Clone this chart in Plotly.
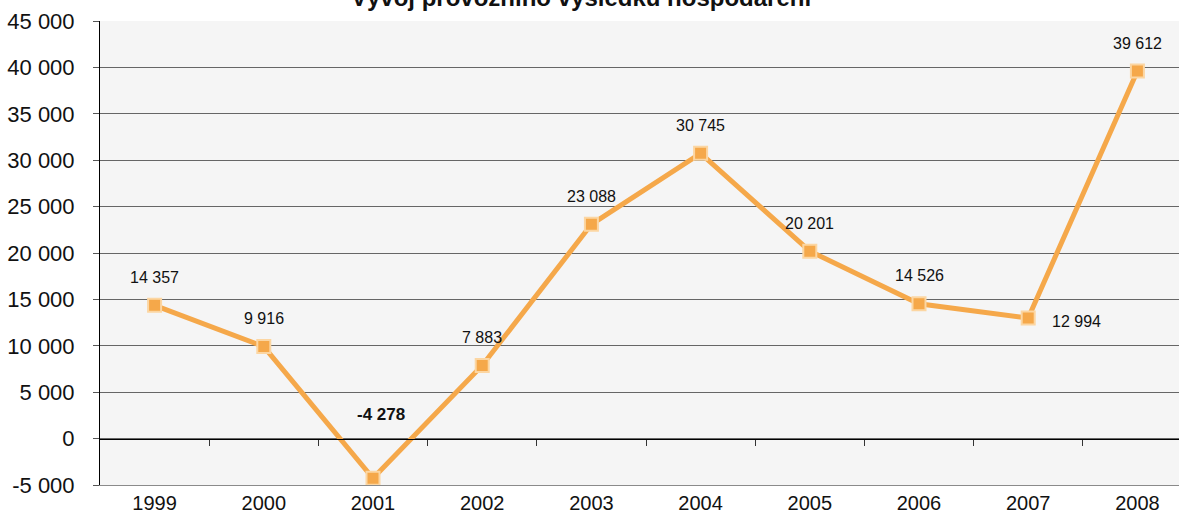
import plotly.graph_objects as go

# ---- data ----
years = ["1999", "2000", "2001", "2002", "2003", "2004", "2005", "2006", "2007", "2008"]
values = [14357, 9916, -4278, 7883, 23088, 30745, 20201, 14526, 12994, 39612]
y_ticks = [-5000, 0, 5000, 10000, 15000, 20000, 25000, 30000, 35000, 40000, 45000]
title_text = "Vývoj provozního výsledku hospodaření"


def fmt(v):
    return f"{v:,}".replace(",", " ")


FONT = "Liberation Sans, Arial, Helvetica, sans-serif"
LINE_COLOR = "#f5a84a"
W, H = 1179, 517
ML, MR, MT, MB = 100, 0, 21, 32
cat_px = 109.2
x_idx = list(range(len(years)))
x_range = [-0.5, -0.5 + (W - ML - MR) / cat_px]

fig = go.Figure()
fig.add_trace(go.Scatter(
    x=x_idx, y=values, mode="lines+markers",
    line=dict(color=LINE_COLOR, width=5),
    marker=dict(symbol="square", size=13, color=LINE_COLOR,
                line=dict(color="#fcd6a2", width=2)),
    hoverinfo="skip", showlegend=False,
))
# invisible trace to hold the zero-line axis
fig.add_trace(go.Scatter(x=[x_idx[0]], y=[0], xaxis="x2", mode="markers",
                         marker=dict(opacity=0), hoverinfo="skip", showlegend=False))

# data labels
label_style = {
    2: dict(xshift=8, yshift=64, bold=True, size=17),
    8: dict(xshift=48, yshift=-3),
}
for i, v in enumerate(values):
    st = label_style.get(i, {})
    txt = fmt(v)
    if st.get("bold"):
        txt = f"<b>{txt}</b>"
    fig.add_annotation(x=i, y=v, xref="x", yref="y", text=txt, showarrow=False,
                       xshift=st.get("xshift", 0), yshift=st.get("yshift", 28),
                       font=dict(family=FONT, size=st.get("size", 16), color="#111"))

fig.add_annotation(x=0.446, y=1, xref="paper", yref="paper", xanchor="center",
                   yanchor="bottom", yshift=8, text=f"<b>{title_text}</b>",
                   showarrow=False, font=dict(family=FONT, size=24, color="#111"))

fig.update_layout(
    width=W, height=H,
    margin=dict(l=ML, r=MR, t=MT, b=MB, pad=0, autoexpand=False),
    paper_bgcolor="white", plot_bgcolor="#f5f5f5",
    font=dict(family=FONT, color="#111"),
    xaxis=dict(range=x_range, tickvals=x_idx, ticktext=years, showgrid=False,
               zeroline=False, showline=True, linecolor="#8a8a8a", linewidth=1,
               ticks="", tickfont=dict(size=20), fixedrange=True, automargin=False),
    xaxis2=dict(range=x_range, overlaying="x", anchor="free", position=0.1,
                showline=True, linecolor="#000", linewidth=1,
                tickvals=[i + 0.5 for i in x_idx[:-1]], ticks="outside",
                ticklen=6, tickcolor="#333", showticklabels=False,
                showgrid=False, zeroline=False, automargin=False),
    xaxis3=dict(range=x_range, overlaying="x", anchor="free", position=1,
                showline=True, linecolor="#000", linewidth=1, side="top",
                showticklabels=False, ticks="", showgrid=False, zeroline=False,
                automargin=False),
    yaxis=dict(range=[y_ticks[0], y_ticks[-1]], tickvals=y_ticks,
               ticktext=[fmt(t) for t in y_ticks], showgrid=True,
               gridcolor="#666", gridwidth=1, zeroline=False,
               showline=True, linecolor="#000", linewidth=1,
               ticks="outside", ticklen=6, tickcolor="#555",
               tickfont=dict(size=22), ticklabelstandoff=14, fixedrange=True,
               automargin=False),
)

fig.write_html("out.html", config={"displayModeBar": False},
               post_script="document.body.style.margin='0px';document.body.style.overflow='hidden';")
